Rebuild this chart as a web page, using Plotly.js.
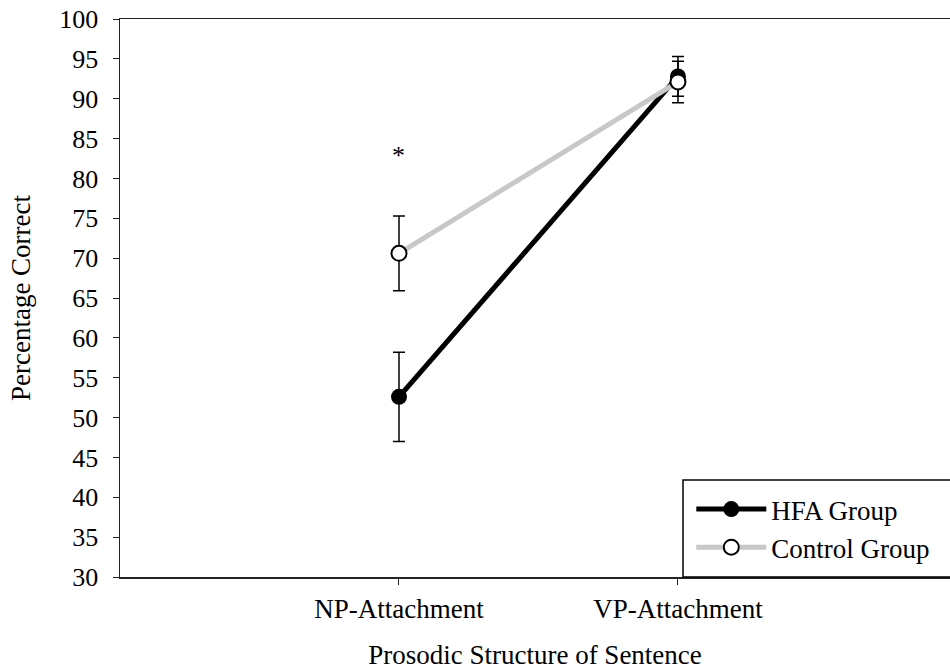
<!DOCTYPE html>
<html>
<head>
<meta charset="utf-8">
<script src="https://cdn.plot.ly/plotly-3.0.1.min.js"></script>
<style>html,body{margin:0;padding:0;background:#fff;}#chart{width:950px;height:671px;}</style>
</head>
<body>
<div id="chart"></div>
<script>
const categories = ["NP-Attachment", "VP-Attachment"];
const hfaValues = [52.6, 92.8];
const hfaErrors = [5.6, 2.5];
const controlValues = [70.6, 92.1];
const controlErrors = [4.7, 2.6];
const seriesNames = ["HFA Group", "Control Group"];
const yTicks = [30, 35, 40, 45, 50, 55, 60, 65, 70, 75, 80, 85, 90, 95, 100];
const starLabel = {category: 0, value: 82.9, text: "*"};

const serif = "Liberation Serif, Times New Roman, serif";
const xIdx = categories.map((c, i) => i);

const traces = [
  {
    x: xIdx, y: hfaValues, name: seriesNames[0], type: "scatter", mode: "lines+markers",
    line: {color: "#000", width: 5},
    marker: {color: "#000", size: 16},
    error_y: {type: "data", array: hfaErrors, visible: true, color: "#000", thickness: 1.5, width: 6}
  },
  {
    x: xIdx, y: controlValues, name: seriesNames[1], type: "scatter", mode: "lines+markers",
    line: {color: "#c8c8c8", width: 5},
    marker: {color: "#ffffff", size: 15, line: {color: "#000", width: 2}},
    error_y: {type: "data", array: controlErrors, visible: true, color: "#000", thickness: 1.5, width: 6}
  }
];

const legLeft = (683 - 120) / 830;
const legTop = (577 - 480) / 558;

const layout = {
  width: 950, height: 671,
  margin: {l: 120, r: 0, t: 19, b: 94},
  paper_bgcolor: "#fff", plot_bgcolor: "#fff",
  font: {family: serif, color: "#000", size: 27},
  showlegend: true,
  legend: {
    x: legLeft + 0.01, y: legTop - 0.009, xanchor: "left", yanchor: "top",
    borderwidth: 0, bgcolor: "rgba(0,0,0,0)",
    font: {family: serif, size: 27, color: "#000"},
    itemwidth: 70, traceorder: "normal"
  },
  shapes: [{
    type: "rect", xref: "paper", yref: "paper",
    x0: legLeft, x1: 1.05, y0: 0, y1: legTop,
    line: {color: "#000", width: 1.5}, fillcolor: "rgba(0,0,0,0)", layer: "above"
  }],
  xaxis: {
    range: [-1, 1.975],
    tickvals: xIdx, ticktext: categories,
    showgrid: false, zeroline: false,
    showline: true, linecolor: "#222", linewidth: 1.5, mirror: true,
    ticks: "outside", ticklen: 6, tickcolor: "#222",
    ticklabelstandoff: 1,
    tickfont: {family: serif, size: 27},
    title: {text: "Prosodic Structure of Sentence", font: {family: serif, size: 27}, standoff: 22}
  },
  yaxis: {
    range: [30, 100],
    tickvals: yTicks,
    showgrid: false, zeroline: false,
    showline: true, linecolor: "#222", linewidth: 1.5,
    ticks: "outside", ticklen: 6, tickcolor: "#222",
    ticklabelstandoff: 9,
    tickfont: {family: serif, size: 26},
    title: {text: "Percentage Correct", font: {family: serif, size: 27}, standoff: 21}
  },
  annotations: [{
    x: starLabel.category, y: starLabel.value, xref: "x", yref: "y",
    text: starLabel.text, showarrow: false, font: {family: serif, size: 26, color: "#000"}
  }]
};

Plotly.newPlot("chart", traces, layout, {displayModeBar: false, staticPlot: true});
</script>
</body>
</html>
